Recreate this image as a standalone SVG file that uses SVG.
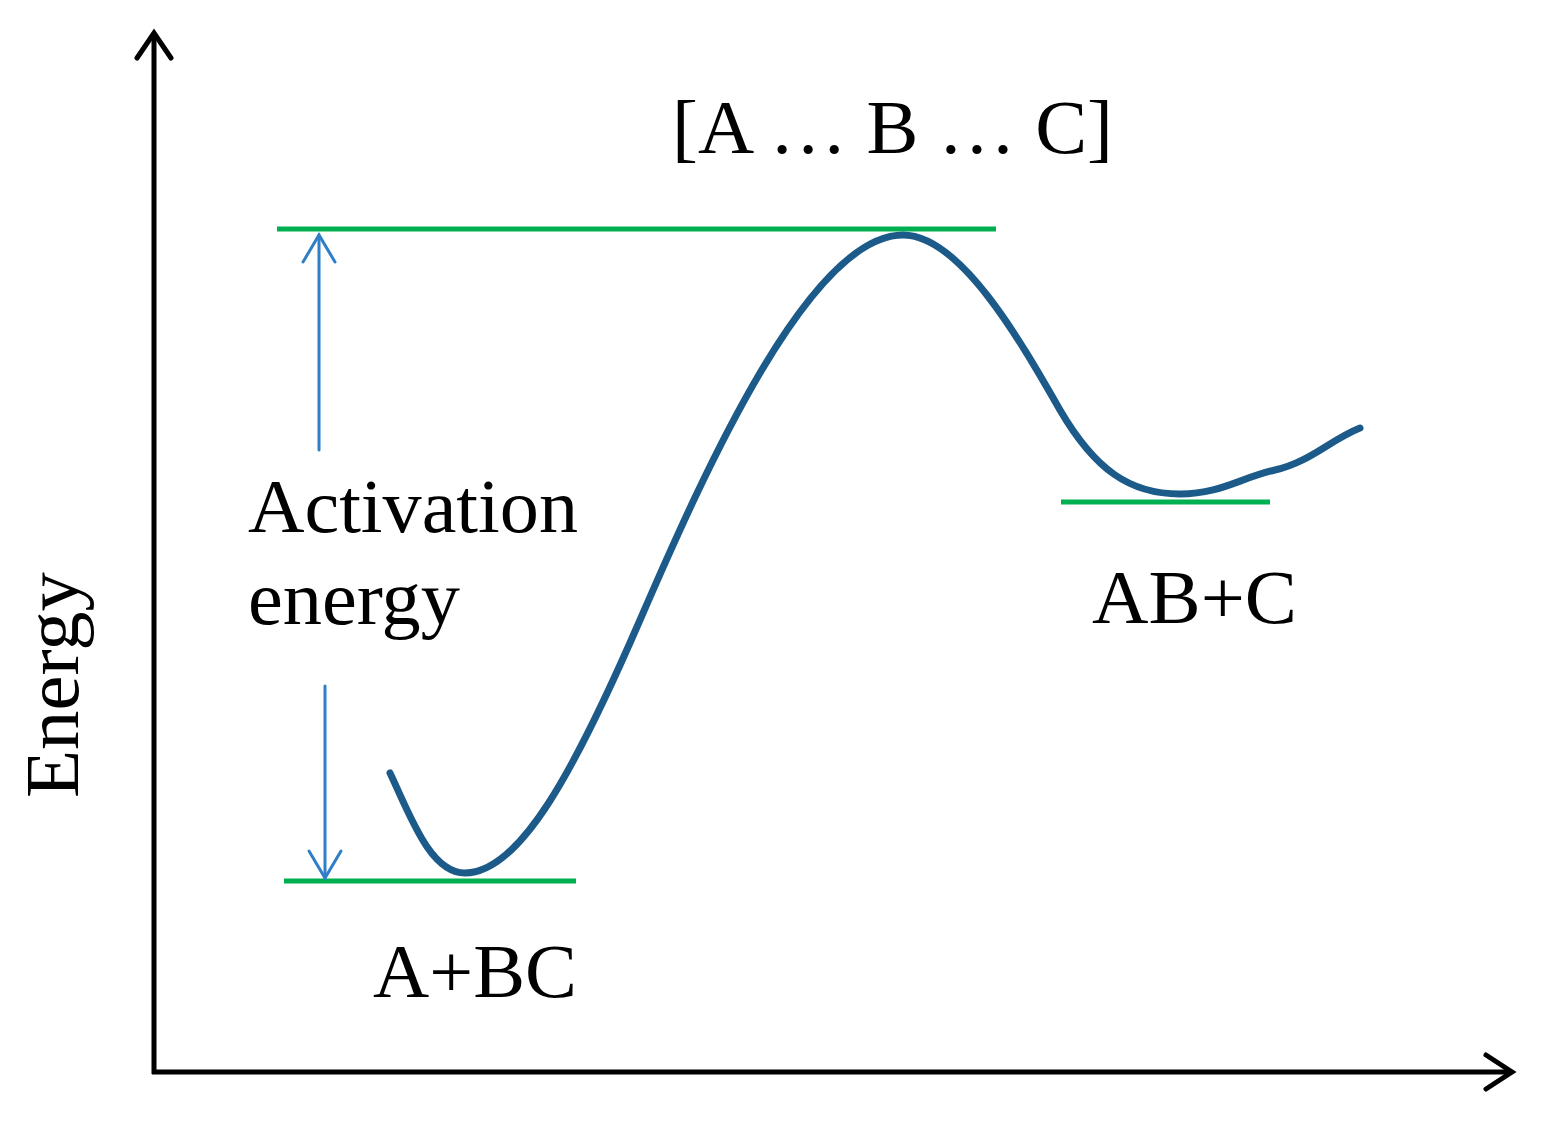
<svg xmlns="http://www.w3.org/2000/svg" width="1543" height="1125" viewBox="0 0 1543 1125">
<style>
.axis{stroke:#000;stroke-width:5;fill:none;stroke-linecap:butt}
.head{stroke:#000;stroke-width:5;fill:none;stroke-linecap:round;stroke-linejoin:miter}
.level{stroke:#00b050;stroke-width:5;fill:none}
.ea{stroke:#2e7ec8;stroke-width:3;fill:none;stroke-linecap:round}
.curve{stroke:#1c5a8a;stroke-width:7;fill:none;stroke-linecap:round}
text{font-family:"Liberation Serif","Times New Roman",serif;fill:#000;font-size:77px}
</style>
<rect width="1543" height="1125" fill="#fff"/>
<g id="axes">
<line class="axis" x1="154" y1="36" x2="154" y2="1074"/>
<line class="axis" x1="152" y1="1072" x2="1512" y2="1072"/>
<polyline class="head" points="137,58 154,33 171,58"/>
<polyline class="head" points="1486,1055 1512,1072 1486,1089"/>
</g>
<g id="levels">
<line class="level" x1="277" y1="229" x2="996" y2="229"/>
<line class="level" x1="284" y1="881" x2="576" y2="881"/>
<line class="level" x1="1061" y1="502" x2="1270" y2="502"/>
</g>
<g id="connectors">
<line class="ea" x1="319" y1="450" x2="319" y2="235"/>
<polyline class="ea" points="303,262 319,235 335,262"/>
<line class="ea" x1="325" y1="686" x2="325" y2="878"/>
<polyline class="ea" points="309,851 325,878 341,851"/>
</g>
<g id="curve">
<path class="curve" d="M390,773 C410,815 430,873 465,873 C520,873 575,770 640,620 C705,470 810,235 903,235 C960,235 1020,340 1060,410 C1095,470 1130,494 1180,494 C1220,494 1240,478 1275,470 C1310,462 1330,440 1360,428"/>
</g>
<g id="labels">
<text x="672" y="153" textLength="441" lengthAdjust="spacingAndGlyphs">[A … B … C]</text>
<text x="248" y="532" textLength="330" lengthAdjust="spacingAndGlyphs">Activation</text>
<text x="248" y="624" textLength="212" lengthAdjust="spacingAndGlyphs">energy</text>
<text x="1092" y="623" textLength="205" lengthAdjust="spacingAndGlyphs">AB+C</text>
<text x="373" y="997" textLength="204" lengthAdjust="spacingAndGlyphs">A+BC</text>
<text transform="translate(78,798) rotate(-90)" textLength="226" lengthAdjust="spacingAndGlyphs">Energy</text>
</g>
</svg>
